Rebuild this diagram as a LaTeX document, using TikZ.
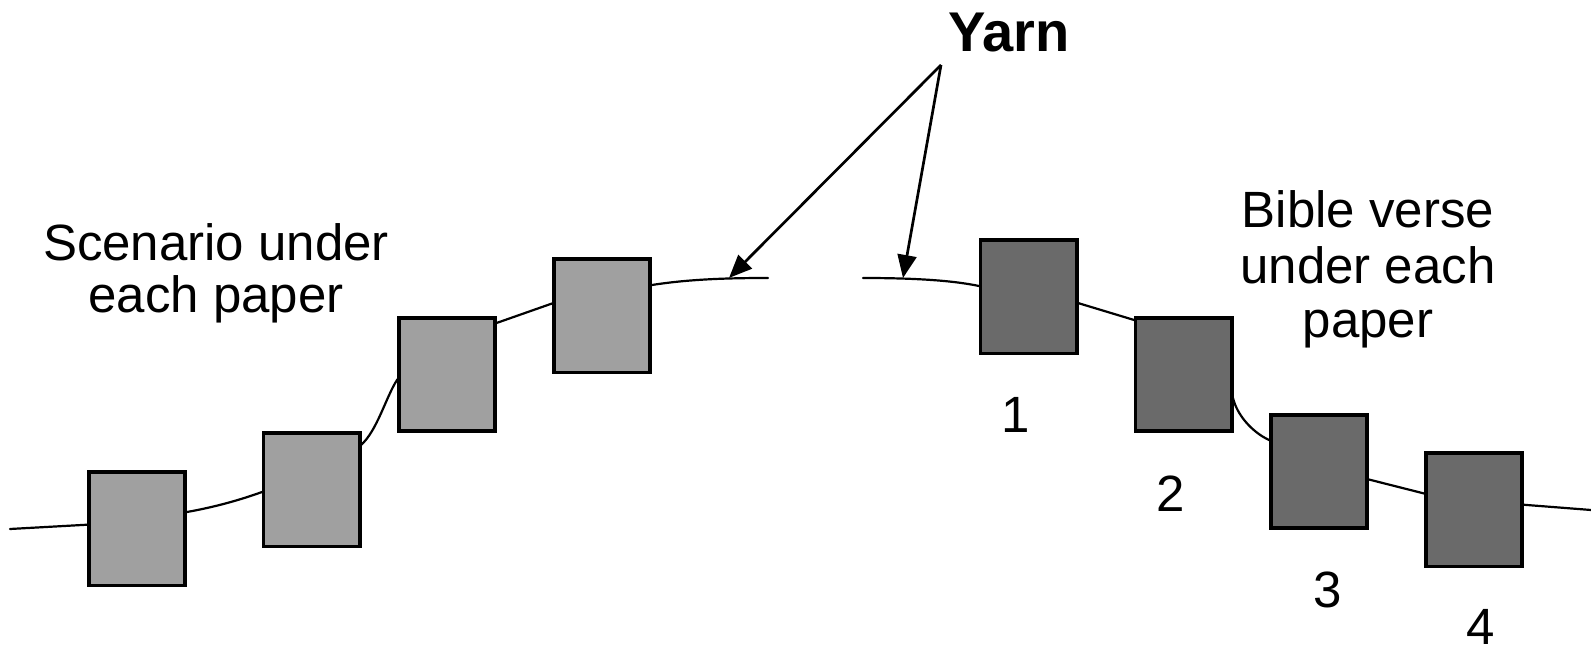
\documentclass[tikz,border=0pt]{standalone}
\usepackage{fontspec}
\setmainfont{Liberation Sans}
\usetikzlibrary{arrows.meta}
\definecolor{paperL}{RGB}{160,160,160}
\definecolor{paperR}{RGB}{106,106,106}
\begin{document}
\begin{tikzpicture}[x=0.5pt,y=-0.5pt,
  paper/.style={draw=black, line width=1.9pt, minimum width=48.1pt, minimum height=56.6pt, inner sep=0pt},
  lpaper/.style={paper, fill=paperL},
  rpaper/.style={paper, fill=paperR},
  yarn/.style={line width=1.1pt, line cap=round},
  pointer/.style={line width=1.35pt, -{Triangle[length=11.5pt,width=9.5pt]}},
  lbl/.style={anchor=base, inner sep=0pt, font=\fontsize{25.5}{30}\selectfont},
  title/.style={anchor=base, inner sep=0pt, font=\fontsize{28}{33}\selectfont\bfseries}]
\useasboundingbox (0,0) rectangle (1591,651);
% yarn (drawn first, boxes cover it)
\draw[yarn] (10,529) -- (100,524);
\draw[yarn] (175,514) -- (187,512) .. controls (215,507) and (240,500) .. (262,492) -- (272,489);
\draw[yarn] (350,455) -- (361,445) .. controls (377,431) and (386,397) .. (397,380) -- (405,372);
\draw[yarn] (488,326) -- (562,300);
\draw[yarn] (642,287) -- (652,285) .. controls (690,279) and (730,278) .. (768,278);
\draw[yarn] (863,278) .. controls (920,278) and (955,281) .. (979,286) -- (990,288);
\draw[yarn] (1068,300) -- (1144,323);
\draw[yarn] (1225,385) -- (1233,398) .. controls (1237,415) and (1252,432) .. (1269,440) -- (1278,445);
\draw[yarn] (1359,477) -- (1434,496);
\draw[yarn] (1514,504) -- (1591,510);
% papers
\node[lpaper] (L1) at (137,529) {};
\node[lpaper] (L2) at (311.5,490) {};
\node[lpaper] (L3) at (447,374.5) {};
\node[lpaper] (L4) at (602,316) {};
\node[rpaper] (R1) at (1028.5,297) {};
\node[rpaper] (R2) at (1183.5,374.5) {};
\node[rpaper] (R3) at (1319,471.5) {};
\node[rpaper] (R4) at (1474,510) {};
% labels
\node[title] (yarnlbl) at (1009,52) {Yarn};
\node[lbl] (sc1) at (216,261) {Scenario under};
\node[lbl] (sc2) at (216,313) {each paper};
\node[lbl] (bv1) at (1368,228) {Bible verse};
\node[lbl] (bv2) at (1368,284) {under each};
\node[lbl] (bv3) at (1368,338) {paper};
\node[lbl] (n1) at (1016,433) {1};
\node[lbl] (n2) at (1171,512) {2};
\node[lbl] (n3) at (1328,608) {3};
\node[lbl] (n4) at (1481,645) {4};
% pointers
\coordinate (src) at (941,65);
\coordinate (tipL) at (729,278);
\coordinate (tipR) at (903,278);
\draw[pointer] (src) -- (tipL);
\draw[pointer] (src) -- (tipR);
\end{tikzpicture}
\end{document}
